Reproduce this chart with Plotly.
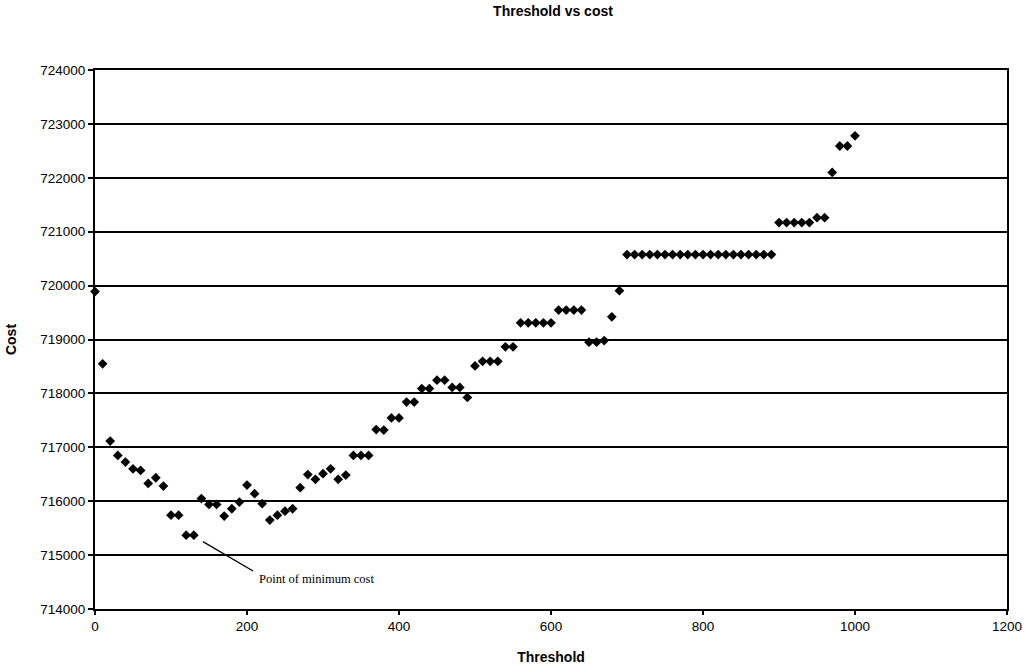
import plotly.graph_objects as go

# Threshold values (step of 10) and the total cost obtained for each
threshold = [
    0, 10, 20, 30, 40, 50, 60, 70, 80, 90,
    100, 110, 120, 130, 140, 150, 160, 170, 180, 190,
    200, 210, 220, 230, 240, 250, 260, 270, 280, 290,
    300, 310, 320, 330, 340, 350, 360, 370, 380, 390,
    400, 410, 420, 430, 440, 450, 460, 470, 480, 490,
    500, 510, 520, 530, 540, 550, 560, 570, 580, 590,
    600, 610, 620, 630, 640, 650, 660, 670, 680, 690,
    700, 710, 720, 730, 740, 750, 760, 770, 780, 790,
    800, 810, 820, 830, 840, 850, 860, 870, 880, 890,
    900, 910, 920, 930, 940, 950, 960, 970, 980, 990,
    1000,
]
cost = [
    719890, 718550, 717115, 716850, 716725, 716600, 716570, 716330, 716435, 716280,
    715740, 715740, 715370, 715370, 716050, 715940, 715940, 715725, 715860, 715985,
    716300, 716140, 715955, 715650, 715740, 715815, 715860, 716250, 716495, 716405,
    716510, 716600, 716405, 716485, 716850, 716850, 716850, 717330, 717320, 717545,
    717545, 717840, 717840, 718090, 718090, 718245, 718245, 718110, 718110, 717925,
    718510, 718595, 718595, 718595, 718865, 718865, 719310, 719310, 719310, 719310,
    719310, 719545, 719545, 719545, 719545, 718950, 718950, 718980, 719420, 719905,
    720575, 720575, 720575, 720575, 720575, 720575, 720575, 720575, 720575, 720575,
    720575, 720575, 720575, 720575, 720575, 720575, 720575, 720575, 720575, 720575,
    721170, 721170, 721170, 721170, 721170, 721260, 721260, 722100, 722590, 722590,
    722780,
]

x_ticks = [0, 200, 400, 600, 800, 1000, 1200]
y_ticks = [714000, 715000, 716000, 717000, 718000, 719000, 720000, 721000, 722000, 723000, 724000]

fig = go.Figure()
fig.add_trace(go.Scatter(
    x=threshold, y=cost, mode="markers",
    marker=dict(symbol="diamond", size=7.5, color="black", line=dict(width=0)),
    cliponaxis=False, showlegend=False,
))

# Callout line and label for the lowest cost
fig.add_shape(type="line", xref="x", yref="y",
              x0=142, y0=715250, x1=208, y1=714705,
              line=dict(color="black", width=1.3))
fig.add_annotation(x=213, y=714560, xref="x", yref="y",
                   text="Point of minimum cost", showarrow=False,
                   xanchor="left", yanchor="middle",
                   font=dict(family="Liberation Serif", size=12.5, color="black"))

axis_font = dict(family="Liberation Sans, Arial", size=13.5, color="black")
title_font = dict(family="Liberation Sans, Arial", size=14, color="black")

fig.update_layout(
    width=1026, height=665,
    margin=dict(l=95, r=19, t=70, b=56, autoexpand=False),
    paper_bgcolor="white", plot_bgcolor="white",
    title=dict(text="<b>Threshold vs cost</b>", x=0.539, xanchor="center",
               y=0.99, yanchor="top", font=title_font),
    xaxis=dict(
        range=[0, 1200], tickvals=x_ticks, tickformat="d", automargin=False,
        showgrid=False, zeroline=False,
        showline=True, linecolor="black", linewidth=2, mirror=True,
        ticks="outside", ticklen=4, tickwidth=1.5, tickcolor="black",
        tickfont=axis_font,
        title=dict(text="<b>Threshold</b>", font=title_font, standoff=22),
    ),
    yaxis=dict(
        range=[714000, 724000], tickvals=y_ticks, tickformat="d", automargin=False,
        showgrid=True, gridcolor="black", gridwidth=2, zeroline=False,
        showline=True, linecolor="black", linewidth=2, mirror=True,
        ticks="outside", ticklen=5, tickwidth=1.5, tickcolor="black",
        tickfont=axis_font,
        title=dict(text="<b>Cost</b>", font=title_font, standoff=20),
    ),
)

fig.write_html("out.html")
